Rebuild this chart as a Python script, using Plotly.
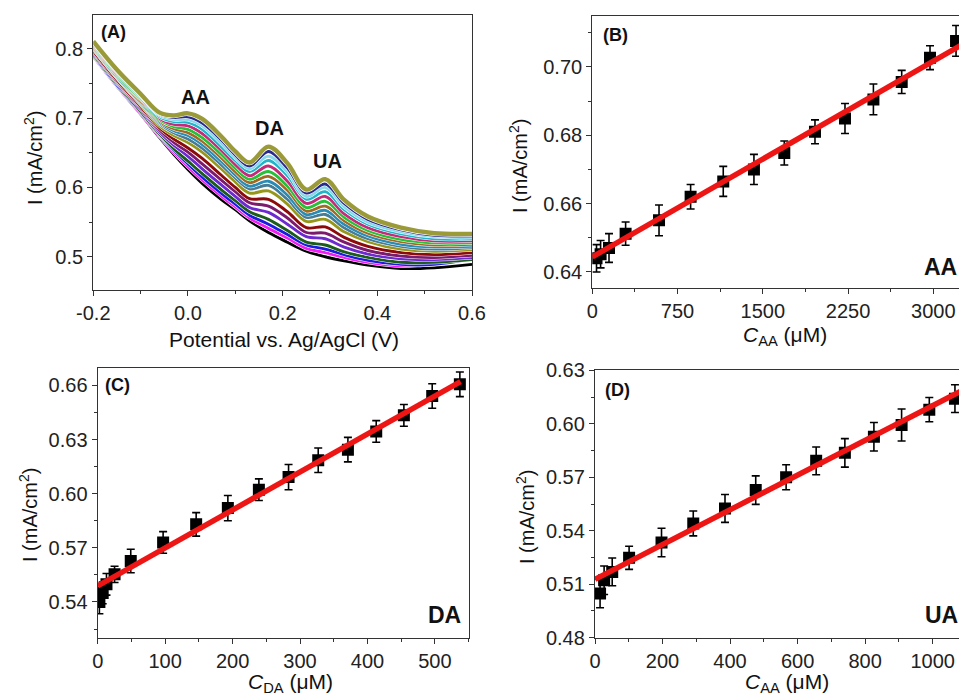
import plotly.graph_objects as go

W, H = 959, 694

# ---------------- Panel A: DPV curves ----------------
POTENTIAL_V = [-0.2, -0.15, -0.1, -0.06, -0.03, 0.0, 0.03, 0.07, 0.1, 0.13,
               0.17, 0.21, 0.25, 0.29, 0.33, 0.38, 0.45, 0.52, 0.6]

I_C01 = [0.811, 0.770, 0.735, 0.708, 0.704, 0.707, 0.699, 0.674, 0.652, 0.636, 0.659, 0.635, 0.597, 0.612, 0.582, 0.558, 0.542, 0.534, 0.533]
I_C02 = [0.810, 0.769, 0.733, 0.706, 0.701, 0.702, 0.693, 0.669, 0.647, 0.631, 0.652, 0.628, 0.592, 0.605, 0.577, 0.554, 0.539, 0.531, 0.530]
I_C03 = [0.809, 0.767, 0.732, 0.704, 0.698, 0.698, 0.689, 0.664, 0.643, 0.627, 0.645, 0.622, 0.587, 0.600, 0.572, 0.550, 0.536, 0.529, 0.528]
I_C04 = [0.807, 0.766, 0.730, 0.702, 0.695, 0.694, 0.684, 0.659, 0.639, 0.623, 0.639, 0.617, 0.583, 0.594, 0.568, 0.547, 0.533, 0.526, 0.526]
I_C05 = [0.806, 0.765, 0.729, 0.700, 0.691, 0.689, 0.678, 0.654, 0.633, 0.617, 0.631, 0.609, 0.577, 0.587, 0.562, 0.542, 0.529, 0.523, 0.523]
I_C06 = [0.805, 0.763, 0.727, 0.698, 0.688, 0.684, 0.672, 0.648, 0.628, 0.612, 0.623, 0.602, 0.571, 0.580, 0.557, 0.538, 0.525, 0.520, 0.520]
I_C07 = [0.803, 0.762, 0.725, 0.696, 0.685, 0.679, 0.667, 0.643, 0.623, 0.607, 0.616, 0.596, 0.566, 0.573, 0.552, 0.534, 0.522, 0.517, 0.518]
I_C08 = [0.802, 0.760, 0.723, 0.694, 0.682, 0.675, 0.662, 0.638, 0.618, 0.602, 0.609, 0.589, 0.561, 0.567, 0.547, 0.530, 0.518, 0.514, 0.515]
I_C09 = [0.801, 0.759, 0.722, 0.692, 0.679, 0.670, 0.657, 0.633, 0.614, 0.598, 0.603, 0.583, 0.557, 0.561, 0.542, 0.526, 0.515, 0.511, 0.513]
I_C10 = [0.800, 0.758, 0.720, 0.689, 0.675, 0.665, 0.651, 0.627, 0.608, 0.592, 0.595, 0.576, 0.551, 0.554, 0.536, 0.522, 0.511, 0.508, 0.510]
I_C11 = [0.797, 0.755, 0.717, 0.686, 0.670, 0.657, 0.642, 0.618, 0.600, 0.584, 0.583, 0.565, 0.542, 0.543, 0.528, 0.515, 0.506, 0.503, 0.506]
I_C12 = [0.796, 0.753, 0.715, 0.683, 0.665, 0.651, 0.634, 0.611, 0.594, 0.578, 0.573, 0.556, 0.535, 0.534, 0.521, 0.509, 0.501, 0.499, 0.502]
I_C13 = [0.794, 0.752, 0.713, 0.680, 0.661, 0.645, 0.627, 0.604, 0.587, 0.571, 0.564, 0.547, 0.529, 0.526, 0.514, 0.504, 0.497, 0.496, 0.499]
I_C14 = [0.792, 0.750, 0.710, 0.677, 0.656, 0.638, 0.620, 0.597, 0.581, 0.565, 0.554, 0.538, 0.521, 0.517, 0.507, 0.499, 0.492, 0.492, 0.496]
I_C15 = [0.791, 0.748, 0.709, 0.676, 0.654, 0.634, 0.615, 0.592, 0.576, 0.560, 0.547, 0.532, 0.517, 0.511, 0.503, 0.495, 0.489, 0.489, 0.497]
I_C16 = [0.790, 0.747, 0.707, 0.674, 0.651, 0.630, 0.611, 0.588, 0.572, 0.556, 0.541, 0.527, 0.512, 0.506, 0.499, 0.492, 0.487, 0.490, 0.499]
I_C17 = [0.789, 0.746, 0.706, 0.672, 0.648, 0.626, 0.606, 0.583, 0.568, 0.552, 0.535, 0.521, 0.508, 0.500, 0.494, 0.488, 0.483, 0.484, 0.489]

CURVES_A = [I_C01, I_C02, I_C03, I_C04, I_C05, I_C06, I_C07, I_C08, I_C09,
            I_C10, I_C11, I_C12, I_C13, I_C14, I_C15, I_C16, I_C17]
CURVE_COLORS = ['#9a9a38', '#2a2a8c', '#88d8ea', '#22b4c8', '#c42a78', '#28c038',
                '#a06a22', '#2a8cb4', '#467c96', '#96961a', '#8c0a0a', '#7c1a6c',
                '#6c2ad0', '#1c5c1c', '#1c1ce0', '#f01cf0', '#000000']

A_XTICKS = [-0.2, 0.0, 0.2, 0.4, 0.6]
A_XTICKTEXT = ['-0.2', '0.0', '0.2', '0.4', '0.6']
A_YTICKS = [0.5, 0.6, 0.7, 0.8]
A_YTICKTEXT = ['0.5', '0.6', '0.7', '0.8']

# ---------------- Panel B: AA calibration ----------------
C_AA_B = [37, 73, 147, 293, 587, 865, 1152, 1422, 1689, 1959, 2223, 2473, 2722, 2971, 3200]
I_AA_B = [0.6440, 0.6452, 0.6470, 0.6512, 0.6551, 0.6620, 0.6665, 0.6700, 0.6748,
          0.6810, 0.6849, 0.6905, 0.6956, 0.7027, 0.7076]
ERR_AA_B = [0.0040, 0.0040, 0.0042, 0.0034, 0.0045, 0.0036, 0.0044, 0.0044, 0.0035,
            0.0035, 0.0044, 0.0045, 0.0034, 0.0035, 0.0045]
FIT_B = [0.6444, 1.91e-5]          # intercept, slope
FIT_B_X = [0, 3300]
B_XTICKS = [0, 750, 1500, 2250, 3000]
B_YTICKS = [0.64, 0.66, 0.68, 0.70]

# ---------------- Panel C: DA calibration ----------------
C_DA = [2.5, 7.4, 13, 25, 49, 97, 146, 193, 239, 283, 327, 371, 413, 454, 496, 537]
I_DA = [0.540, 0.545, 0.5498, 0.5553, 0.5627, 0.573, 0.583, 0.592, 0.6022, 0.6092,
        0.6185, 0.6244, 0.6345, 0.6434, 0.6541, 0.6606]
ERR_DA = [0.0065, 0.0060, 0.0060, 0.0045, 0.0065, 0.0060, 0.0065, 0.0070, 0.0060, 0.0070,
          0.0068, 0.0068, 0.0060, 0.0060, 0.0068, 0.0068]
FIT_C = [0.5489, 2.104e-4]
FIT_C_X = [0, 538]
C_XTICKS = [0, 100, 200, 300, 400, 500]
C_YTICKS = [0.54, 0.57, 0.60, 0.63, 0.66]

# ---------------- Panel D: UA calibration ----------------
C_UA = [15, 27, 51, 101, 197, 291, 385, 476, 566, 655, 740, 826, 908, 990, 1066]
I_UA = [0.5048, 0.5122, 0.5169, 0.5248, 0.5334, 0.5441, 0.5525, 0.5628, 0.5700,
        0.5792, 0.5837, 0.5927, 0.5993, 0.6079, 0.6141]
ERR_UA = [0.0080, 0.0080, 0.0078, 0.0065, 0.0080, 0.0070, 0.0078, 0.0080, 0.0070,
          0.0078, 0.0080, 0.0080, 0.0090, 0.0068, 0.0078]
FIT_D = [0.5128, 9.74e-5]
FIT_D_X = [0, 1100]
D_XTICKS = [0, 200, 400, 600, 800, 1000]
D_YTICKS = [0.48, 0.51, 0.54, 0.57, 0.60, 0.63]


def px(x):
    return x / W


def py(y):
    return 1 - y / H


FONT = 'Arial, "Liberation Sans", sans-serif'
AXC = '#333333'

fig = go.Figure()

# Panel A curves: draw from bottom to top so the top curve lies above
for ys, col in reversed(list(zip(CURVES_A, CURVE_COLORS))):
    top = ys is I_C01
    fig.add_trace(go.Scatter(x=POTENTIAL_V, y=ys, mode='lines', xaxis='x', yaxis='y',
                             line=dict(color='white', width=5.6 if top else 3.9,
                                       shape='spline', smoothing=1.0),
                             hoverinfo='skip'))
    fig.add_trace(go.Scatter(x=POTENTIAL_V, y=ys, mode='lines', xaxis='x', yaxis='y',
                             line=dict(color=col, width=4.4 if top else 2.9,
                                       shape='spline', smoothing=1.0)))


def add_cal(xs, ys, errs, fit, fitx, xa, ya):
    fig.add_trace(go.Scatter(x=xs, y=ys, mode='markers', xaxis=xa, yaxis=ya,
                             marker=dict(symbol='square', size=12, color='black'),
                             error_y=dict(type='data', array=errs, color='black',
                                          thickness=1.6, width=4)))
    fig.add_trace(go.Scatter(x=fitx, y=[fit[0] + fit[1] * v for v in fitx],
                             mode='lines', xaxis=xa, yaxis=ya,
                             line=dict(color='#ee1515', width=5.5)))


add_cal(C_AA_B, I_AA_B, ERR_AA_B, FIT_B, FIT_B_X, 'x2', 'y2')
add_cal(C_DA, I_DA, ERR_DA, FIT_C, FIT_C_X, 'x3', 'y3')
add_cal(C_UA, I_UA, ERR_UA, FIT_D, FIT_D_X, 'x4', 'y4')


def axis(domain, rng, tickvals, ticktext, minor_dtick, minor_tick0, anchor, mirror=True):
    return dict(domain=domain, range=rng, anchor=anchor,
                tickmode='array', tickvals=tickvals, ticktext=ticktext,
                showline=True, linecolor=AXC, linewidth=1.3, mirror=mirror,
                ticks='outside', ticklen=5, tickwidth=1.3, tickcolor=AXC,
                showgrid=False, zeroline=False,
                tickfont=dict(size=20, color='#222222', family=FONT),
                minor=dict(tickmode='linear', dtick=minor_dtick, tick0=minor_tick0,
                           ticks='outside', ticklen=3, tickwidth=1, tickcolor=AXC))


fig.update_layout(
    width=W, height=H, margin=dict(l=0, r=0, t=0, b=0, pad=0, autoexpand=False),
    paper_bgcolor='white', plot_bgcolor='white', showlegend=False,
    font=dict(family=FONT, color='#222222'),
    xaxis=axis([px(93.3), px(472)], [-0.2, 0.6], A_XTICKS, A_XTICKTEXT, 0.1, -0.2, 'y'),
    yaxis=axis([py(290), py(15)], [0.452, 0.849], A_YTICKS, A_YTICKTEXT, 0.05, 0.45, 'x'),
    xaxis2=axis([px(592.3), 1.0], [0, 3226], B_XTICKS, [str(v) for v in B_XTICKS], 375, 0, 'y2'),
    yaxis2=axis([py(288), py(16)], [0.6353, 0.7149], B_YTICKS, ['%.2f' % v for v in B_YTICKS],
                0.01, 0.63, 'x2', mirror=False),
    xaxis3=axis([px(97.7), px(469.3)], [0, 551], C_XTICKS, [str(v) for v in C_XTICKS], 50, 0, 'y3'),
    yaxis3=axis([py(637.7), py(367.7)], [0.5202, 0.6698], C_YTICKS, ['%.2f' % v for v in C_YTICKS],
                0.015, 0.525, 'x3'),
    xaxis4=axis([px(595), 1.0], [0, 1078], D_XTICKS, [str(v) for v in D_XTICKS], 100, 0, 'y4'),
    yaxis4=axis([py(637.7), py(370.3)], [0.48, 0.63], D_YTICKS, ['%.2f' % v for v in D_YTICKS],
                0.015, 0.48, 'x4', mirror=False),
)

ann = []


def label(text, x, y, size, bold=False, angle=0, xanchor='center', yanchor='middle'):
    t = '<b>%s</b>' % text if bold else text
    ann.append(dict(text=t, x=px(x), y=py(y), xref='paper', yref='paper',
                    showarrow=False, textangle=angle, xanchor=xanchor, yanchor=yanchor,
                    font=dict(size=size, family=FONT, color='#111111')))


YT = 'I (mA/cm<sup>2</sup>)'
# axis titles
label('Potential vs. Ag/AgCl (V)', 284, 339, 21)
label(YT, 33, 158, 20, angle=-90)
label('<i>C</i><sub>AA</sub> (μM)', 785, 336, 21)
label(YT, 519, 166, 20, angle=-90)
label('<i>C</i><sub>DA</sub> (μM)', 290, 683, 21)
label(YT, 28, 515, 20, angle=-90)
label('<i>C</i><sub>AA</sub> (μM)', 787, 683, 21)
label(YT, 525, 517, 20, angle=-90)
# panel letters
label('(A)', 113, 32, 18, bold=True)
label('(B)', 615, 35, 18, bold=True)
label('(C)', 117, 385, 18, bold=True)
label('(D)', 617, 390, 18, bold=True)
# analyte tags
label('AA', 922, 267, 23, bold=True, xanchor='left')
label('DA', 444, 615, 23, bold=True)
label('UA', 923, 615, 23, bold=True, xanchor='left')

# peak labels on panel A (data coords)
for txt, xv, yv in [('AA', 0.015, 0.731), ('DA', 0.173, 0.686), ('UA', 0.294, 0.638)]:
    ann.append(dict(text='<b>%s</b>' % txt, x=xv, y=yv, xref='x', yref='y', showarrow=False,
                    font=dict(size=20, family=FONT, color='#111111')))

fig.update_layout(annotations=ann)
fig.write_html('out.html', config={'displayModeBar': False},
               post_script="document.body.style.margin='0';document.body.style.overflow='hidden';")
